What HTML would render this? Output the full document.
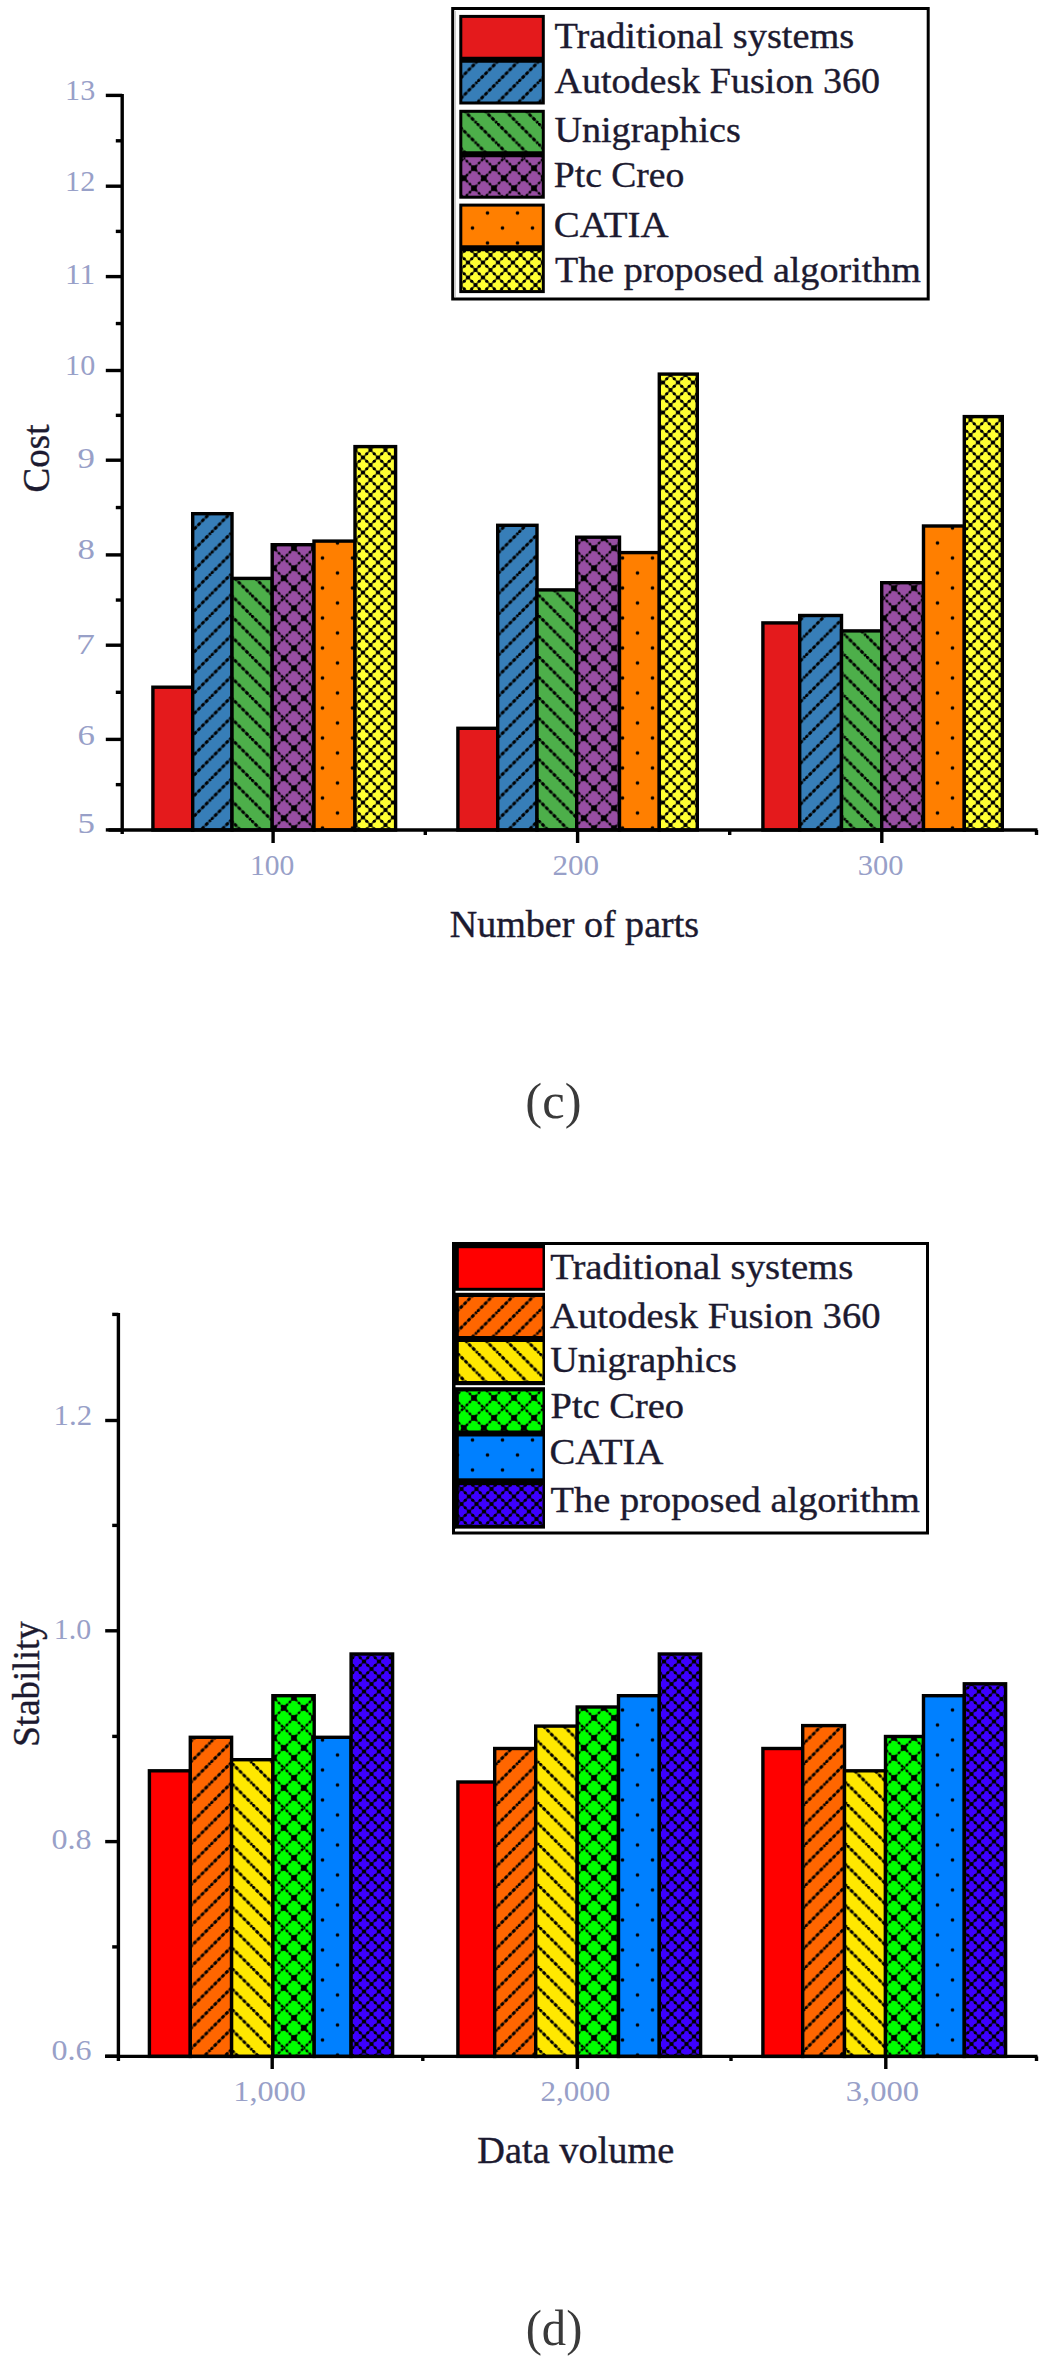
<!DOCTYPE html>
<html><head><meta charset="utf-8"><title>Charts</title>
<style>
html,body{margin:0;padding:0;background:#fff;}
body{width:1046px;height:2363px;overflow:hidden;font-family:"Liberation Serif",serif;}
svg{display:block;}

</style></head><body>
<svg width="1046" height="2363" viewBox="0 0 1046 2363" font-family='"Liberation Serif", serif'>
<defs><pattern id="c1b" patternUnits="userSpaceOnUse" width="20.5" height="20.5" x="5.7"><rect width="20.5" height="20.5" fill="#377eb8"/><path d="M0,20.5 L20.5,0 M-10.25,10.25 L10.25,-10.25 M10.25,30.75 L30.75,10.25" stroke="#000" stroke-width="2.0" stroke-opacity="0.5" fill="none"/><path d="M0,20.5 L20.5,0 M-10.25,10.25 L10.25,-10.25 M10.25,30.75 L30.75,10.25" stroke="#000" stroke-width="2.9" stroke-dasharray="3.4 2.0" fill="none" opacity="1.0"/></pattern><pattern id="c1g" patternUnits="userSpaceOnUse" width="20.5" height="20.5" x="5.0"><rect width="20.5" height="20.5" fill="#4daf4a"/><path d="M0,0 L20.5,20.5 M-10.25,10.25 L10.25,30.75 M10.25,-10.25 L30.75,10.25" stroke="#000" stroke-width="2.0" stroke-opacity="0.5" fill="none"/><path d="M0,0 L20.5,20.5 M-10.25,10.25 L10.25,30.75 M10.25,-10.25 L30.75,10.25" stroke="#000" stroke-width="2.9" stroke-dasharray="3.4 2.0" fill="none" opacity="1.0"/></pattern><pattern id="c1p" patternUnits="userSpaceOnUse" width="20.0" height="40.0" x="3.9" y="38.2"><rect width="20.0" height="40.0" fill="#984ea3"/><path d="M-10.0,-30.0 L30.0,10.0 M-10.0,-10.0 L30.0,30.0 M-10.0,10.0 L30.0,50.0 M-10.0,30.0 L30.0,70.0 M-10.0,10.0 L30.0,-30.0 M-10.0,30.0 L30.0,-10.0 M-10.0,50.0 L30.0,10.0 M-10.0,70.0 L30.0,30.0 " stroke="#000" stroke-width="1.4" stroke-opacity="0.5" fill="none"/><path d="M-10.0,-30.0 L30.0,10.0 M-10.0,-10.0 L30.0,30.0 M-10.0,10.0 L30.0,50.0 M-10.0,30.0 L30.0,70.0 M-10.0,10.0 L30.0,-30.0 M-10.0,30.0 L30.0,-10.0 M-10.0,50.0 L30.0,10.0 M-10.0,70.0 L30.0,30.0 " stroke="#000" stroke-width="2.4" stroke-dasharray="2.4 1.9" fill="none"/><rect x="7.2" y="7.2" width="5.6" height="5.6" fill="#000"/><rect x="-2.8" y="17.2" width="5.6" height="5.6" fill="#000"/><rect x="17.2" y="17.2" width="5.6" height="5.6" fill="#000"/><rect x="7.2" y="27.2" width="5.6" height="5.6" fill="#000"/></pattern><pattern id="c1o" patternUnits="userSpaceOnUse" width="30" height="30" x="0" y="-4.5"><rect width="30" height="30" fill="#ff7f00"/><circle cx="7.5" cy="7.5" r="1.8" fill="#000"/><circle cx="22.5" cy="22.5" r="1.8" fill="#000"/></pattern><pattern id="c1y" patternUnits="userSpaceOnUse" width="15.0" height="15.0" x="3" y="0"><rect width="15.0" height="15.0" fill="#ffff33"/><path d="M0,7.5 L7.5,0 L15.0,7.5 L7.5,15.0 Z" stroke="#000" stroke-opacity="0.65" stroke-width="1.8" fill="none"/><circle cx="7.5" cy="0" r="2.1" fill="#000"/><circle cx="0" cy="7.5" r="2.1" fill="#000"/><circle cx="15.0" cy="7.5" r="2.1" fill="#000"/><circle cx="7.5" cy="15.0" r="2.1" fill="#000"/><circle cx="3.75" cy="3.75" r="1.6" fill="#000"/><circle cx="11.25" cy="3.75" r="1.6" fill="#000"/><circle cx="3.75" cy="11.25" r="1.6" fill="#000"/><circle cx="11.25" cy="11.25" r="1.6" fill="#000"/></pattern><pattern id="c2o" patternUnits="userSpaceOnUse" width="20.5" height="20.5" x="5.3"><rect width="20.5" height="20.5" fill="#ff6600"/><path d="M0,20.5 L20.5,0 M-10.25,10.25 L10.25,-10.25 M10.25,30.75 L30.75,10.25" stroke="#000" stroke-width="2.0" stroke-opacity="0.5" fill="none"/><path d="M0,20.5 L20.5,0 M-10.25,10.25 L10.25,-10.25 M10.25,30.75 L30.75,10.25" stroke="#000" stroke-width="2.9" stroke-dasharray="3.4 2.0" fill="none" opacity="1.0"/></pattern><pattern id="c2y" patternUnits="userSpaceOnUse" width="20.5" height="20.5" x="6.2"><rect width="20.5" height="20.5" fill="#ffe800"/><path d="M0,0 L20.5,20.5 M-10.25,10.25 L10.25,30.75 M10.25,-10.25 L30.75,10.25" stroke="#000" stroke-width="2.0" stroke-opacity="0.5" fill="none"/><path d="M0,0 L20.5,20.5 M-10.25,10.25 L10.25,30.75 M10.25,-10.25 L30.75,10.25" stroke="#000" stroke-width="2.9" stroke-dasharray="3.4 2.0" fill="none" opacity="1.0"/></pattern><pattern id="c2g" patternUnits="userSpaceOnUse" width="20.0" height="40.0" x="3.9" y="7.9"><rect width="20.0" height="40.0" fill="#00ff00"/><path d="M-10.0,-30.0 L30.0,10.0 M-10.0,-10.0 L30.0,30.0 M-10.0,10.0 L30.0,50.0 M-10.0,30.0 L30.0,70.0 M-10.0,10.0 L30.0,-30.0 M-10.0,30.0 L30.0,-10.0 M-10.0,50.0 L30.0,10.0 M-10.0,70.0 L30.0,30.0 " stroke="#000" stroke-width="1.4" stroke-opacity="0.5" fill="none"/><path d="M-10.0,-30.0 L30.0,10.0 M-10.0,-10.0 L30.0,30.0 M-10.0,10.0 L30.0,50.0 M-10.0,30.0 L30.0,70.0 M-10.0,10.0 L30.0,-30.0 M-10.0,30.0 L30.0,-10.0 M-10.0,50.0 L30.0,10.0 M-10.0,70.0 L30.0,30.0 " stroke="#000" stroke-width="2.4" stroke-dasharray="2.4 1.9" fill="none"/><rect x="7.2" y="7.2" width="5.6" height="5.6" fill="#000"/><rect x="-2.8" y="17.2" width="5.6" height="5.6" fill="#000"/><rect x="17.2" y="17.2" width="5.6" height="5.6" fill="#000"/><rect x="7.2" y="27.2" width="5.6" height="5.6" fill="#000"/></pattern><pattern id="c2b" patternUnits="userSpaceOnUse" width="30" height="30" x="0" y="7.5"><rect width="30" height="30" fill="#0080ff"/><circle cx="7.5" cy="7.5" r="1.8" fill="#000"/><circle cx="22.5" cy="22.5" r="1.8" fill="#000"/></pattern><pattern id="c2i" patternUnits="userSpaceOnUse" width="15.0" height="15.0" x="4" y="4"><rect width="15.0" height="15.0" fill="#3d00ff"/><path d="M0,7.5 L7.5,0 L15.0,7.5 L7.5,15.0 Z" stroke="#000" stroke-opacity="0.65" stroke-width="1.8" fill="none"/><circle cx="7.5" cy="0" r="2.1" fill="#000"/><circle cx="0" cy="7.5" r="2.1" fill="#000"/><circle cx="15.0" cy="7.5" r="2.1" fill="#000"/><circle cx="7.5" cy="15.0" r="2.1" fill="#000"/><circle cx="3.75" cy="3.75" r="1.6" fill="#000"/><circle cx="11.25" cy="3.75" r="1.6" fill="#000"/><circle cx="3.75" cy="11.25" r="1.6" fill="#000"/><circle cx="11.25" cy="11.25" r="1.6" fill="#000"/></pattern></defs>
<rect width="1046" height="2363" fill="#fff"/>
<rect x="152.9" y="687.2" width="39.8" height="142.8" fill="#e41a1c" stroke="#000" stroke-width="3.4"/>
<rect x="192.7" y="513.7" width="39.3" height="316.3" fill="url(#c1b)" stroke="#000" stroke-width="3.4"/>
<rect x="232.0" y="578.4" width="40.2" height="251.6" fill="url(#c1g)" stroke="#000" stroke-width="3.4"/>
<rect x="272.2" y="544.7" width="41.8" height="285.3" fill="url(#c1p)" stroke="#000" stroke-width="3.4"/>
<rect x="314.0" y="541.1" width="41.0" height="288.9" fill="url(#c1o)" stroke="#000" stroke-width="3.4"/>
<rect x="355.0" y="446.6" width="40.6" height="383.4" fill="url(#c1y)" stroke="#000" stroke-width="3.4"/>
<rect x="457.9" y="728.3" width="39.8" height="101.7" fill="#e41a1c" stroke="#000" stroke-width="3.4"/>
<rect x="497.7" y="525.3" width="39.3" height="304.7" fill="url(#c1b)" stroke="#000" stroke-width="3.4"/>
<rect x="537.0" y="589.9" width="39.7" height="240.1" fill="url(#c1g)" stroke="#000" stroke-width="3.4"/>
<rect x="576.7" y="537.2" width="42.8" height="292.8" fill="url(#c1p)" stroke="#000" stroke-width="3.4"/>
<rect x="619.5" y="552.6" width="39.8" height="277.4" fill="url(#c1o)" stroke="#000" stroke-width="3.4"/>
<rect x="659.3" y="374.1" width="38.0" height="455.9" fill="url(#c1y)" stroke="#000" stroke-width="3.4"/>
<rect x="762.9" y="622.9" width="36.8" height="207.1" fill="#e41a1c" stroke="#000" stroke-width="3.4"/>
<rect x="799.7" y="615.5" width="41.8" height="214.5" fill="url(#c1b)" stroke="#000" stroke-width="3.4"/>
<rect x="841.5" y="630.9" width="40.2" height="199.1" fill="url(#c1g)" stroke="#000" stroke-width="3.4"/>
<rect x="881.7" y="582.7" width="41.8" height="247.3" fill="url(#c1p)" stroke="#000" stroke-width="3.4"/>
<rect x="923.5" y="526.0" width="40.8" height="304.0" fill="url(#c1o)" stroke="#000" stroke-width="3.4"/>
<rect x="964.3" y="416.6" width="38.0" height="413.4" fill="url(#c1y)" stroke="#000" stroke-width="3.4"/>
<line x1="122.2" y1="94" x2="122.2" y2="834" stroke="#000" stroke-width="3.4" stroke-linecap="butt"/>
<line x1="108.5" y1="830.0" x2="1037.5" y2="830.0" stroke="#000" stroke-width="3.4" stroke-linecap="butt"/>
<line x1="1036.5" y1="830.0" x2="1036.5" y2="835" stroke="#000" stroke-width="3.4" stroke-linecap="butt"/>
<line x1="105.8" y1="829.9" x2="122.2" y2="829.9" stroke="#000" stroke-width="3.4" stroke-linecap="butt"/>
<line x1="105.8" y1="739.4" x2="122.2" y2="739.4" stroke="#000" stroke-width="3.4" stroke-linecap="butt"/>
<line x1="105.8" y1="645.2" x2="122.2" y2="645.2" stroke="#000" stroke-width="3.4" stroke-linecap="butt"/>
<line x1="105.8" y1="554.9" x2="122.2" y2="554.9" stroke="#000" stroke-width="3.4" stroke-linecap="butt"/>
<line x1="105.8" y1="460.2" x2="122.2" y2="460.2" stroke="#000" stroke-width="3.4" stroke-linecap="butt"/>
<line x1="105.8" y1="370.5" x2="122.2" y2="370.5" stroke="#000" stroke-width="3.4" stroke-linecap="butt"/>
<line x1="105.8" y1="276.6" x2="122.2" y2="276.6" stroke="#000" stroke-width="3.4" stroke-linecap="butt"/>
<line x1="105.8" y1="186.2" x2="122.2" y2="186.2" stroke="#000" stroke-width="3.4" stroke-linecap="butt"/>
<line x1="105.8" y1="95.4" x2="122.2" y2="95.4" stroke="#000" stroke-width="3.4" stroke-linecap="butt"/>
<line x1="115.8" y1="784.65" x2="122.2" y2="784.65" stroke="#000" stroke-width="3.4" stroke-linecap="butt"/>
<line x1="115.8" y1="692.3" x2="122.2" y2="692.3" stroke="#000" stroke-width="3.4" stroke-linecap="butt"/>
<line x1="115.8" y1="600.05" x2="122.2" y2="600.05" stroke="#000" stroke-width="3.4" stroke-linecap="butt"/>
<line x1="115.8" y1="507.54999999999995" x2="122.2" y2="507.54999999999995" stroke="#000" stroke-width="3.4" stroke-linecap="butt"/>
<line x1="115.8" y1="415.35" x2="122.2" y2="415.35" stroke="#000" stroke-width="3.4" stroke-linecap="butt"/>
<line x1="115.8" y1="323.55" x2="122.2" y2="323.55" stroke="#000" stroke-width="3.4" stroke-linecap="butt"/>
<line x1="115.8" y1="231.4" x2="122.2" y2="231.4" stroke="#000" stroke-width="3.4" stroke-linecap="butt"/>
<line x1="115.8" y1="140.8" x2="122.2" y2="140.8" stroke="#000" stroke-width="3.4" stroke-linecap="butt"/>
<line x1="273.1" y1="830.0" x2="273.1" y2="843" stroke="#000" stroke-width="3.4" stroke-linecap="butt"/>
<line x1="577.6" y1="830.0" x2="577.6" y2="843" stroke="#000" stroke-width="3.4" stroke-linecap="butt"/>
<line x1="881.8" y1="830.0" x2="881.8" y2="843" stroke="#000" stroke-width="3.4" stroke-linecap="butt"/>
<line x1="425.3" y1="830.0" x2="425.3" y2="835" stroke="#000" stroke-width="3.4" stroke-linecap="butt"/>
<line x1="729.7" y1="830.0" x2="729.7" y2="835" stroke="#000" stroke-width="3.4" stroke-linecap="butt"/>
<text transform="translate(48.5,458.5) rotate(-90)" font-size="37" fill="#1c1a30" stroke="#1c1a30" stroke-width="0.4" text-anchor="middle">Cost</text>
<rect x="452.7" y="8.5" width="475.5" height="290.5" fill="#fff" stroke="#000" stroke-width="3"/>
<line x1="455.3" y1="11" x2="455.3" y2="297" stroke="#c8c8c8" stroke-width="1.2"/>
<rect x="460.8" y="16.4" width="82.49999999999994" height="43.300000000000004" fill="#e41a1c"/>
<rect x="460.8" y="59.7" width="82.49999999999994" height="43.3" fill="url(#c1b)"/>
<rect x="460.8" y="16.4" width="82.49999999999994" height="86.6" fill="none" stroke="#000" stroke-width="3"/>
<line x1="460.8" y1="59.7" x2="543.3" y2="59.7" stroke="#000" stroke-width="6"/>
<rect x="460.8" y="111.3" width="82.49999999999994" height="42.95" fill="url(#c1g)"/>
<rect x="460.8" y="154.25" width="82.49999999999994" height="42.94999999999999" fill="url(#c1p)"/>
<rect x="460.8" y="111.3" width="82.49999999999994" height="85.89999999999999" fill="none" stroke="#000" stroke-width="3"/>
<line x1="460.8" y1="154.25" x2="543.3" y2="154.25" stroke="#000" stroke-width="6"/>
<rect x="460.8" y="205.1" width="82.49999999999994" height="43.25000000000003" fill="url(#c1o)"/>
<rect x="460.8" y="248.35000000000002" width="82.49999999999994" height="43.25" fill="url(#c1y)"/>
<rect x="460.8" y="205.1" width="82.49999999999994" height="86.50000000000003" fill="none" stroke="#000" stroke-width="3"/>
<line x1="460.8" y1="248.35000000000002" x2="543.3" y2="248.35000000000002" stroke="#000" stroke-width="6"/>
<rect x="149.4" y="1770.8" width="40.9" height="285.6" fill="#ff0000" stroke="#000" stroke-width="3.4"/>
<rect x="190.3" y="1737.3" width="41.3" height="319.1" fill="url(#c2o)" stroke="#000" stroke-width="3.4"/>
<rect x="231.6" y="1759.7" width="41.3" height="296.7" fill="url(#c2y)" stroke="#000" stroke-width="3.4"/>
<rect x="272.9" y="1695.7" width="41.3" height="360.7" fill="url(#c2g)" stroke="#000" stroke-width="3.4"/>
<rect x="314.2" y="1737.3" width="36.9" height="319.1" fill="url(#c2b)" stroke="#000" stroke-width="3.4"/>
<rect x="351.1" y="1654.0" width="41.5" height="402.4" fill="url(#c2i)" stroke="#000" stroke-width="3.4"/>
<rect x="457.9" y="1782.0" width="36.8" height="274.4" fill="#ff0000" stroke="#000" stroke-width="3.4"/>
<rect x="494.7" y="1748.5" width="41.0" height="307.9" fill="url(#c2o)" stroke="#000" stroke-width="3.4"/>
<rect x="535.7" y="1726.1" width="41.5" height="330.3" fill="url(#c2y)" stroke="#000" stroke-width="3.4"/>
<rect x="577.2" y="1707.0" width="41.3" height="349.4" fill="url(#c2g)" stroke="#000" stroke-width="3.4"/>
<rect x="618.5" y="1695.7" width="40.8" height="360.7" fill="url(#c2b)" stroke="#000" stroke-width="3.4"/>
<rect x="659.3" y="1654.0" width="41.3" height="402.4" fill="url(#c2i)" stroke="#000" stroke-width="3.4"/>
<rect x="762.9" y="1748.5" width="39.8" height="307.9" fill="#ff0000" stroke="#000" stroke-width="3.4"/>
<rect x="802.7" y="1725.6" width="41.8" height="330.8" fill="url(#c2o)" stroke="#000" stroke-width="3.4"/>
<rect x="844.5" y="1770.8" width="41.0" height="285.6" fill="url(#c2y)" stroke="#000" stroke-width="3.4"/>
<rect x="885.5" y="1736.5" width="38.0" height="319.9" fill="url(#c2g)" stroke="#000" stroke-width="3.4"/>
<rect x="923.5" y="1695.7" width="40.8" height="360.7" fill="url(#c2b)" stroke="#000" stroke-width="3.4"/>
<rect x="964.3" y="1683.8" width="41.3" height="372.6" fill="url(#c2i)" stroke="#000" stroke-width="3.4"/>
<line x1="118.4" y1="1313" x2="118.4" y2="2061" stroke="#000" stroke-width="3.4" stroke-linecap="butt"/>
<line x1="105" y1="2056.4" x2="1037.5" y2="2056.4" stroke="#000" stroke-width="3.4" stroke-linecap="butt"/>
<line x1="1036.5" y1="2056.4" x2="1036.5" y2="2061" stroke="#000" stroke-width="3.4" stroke-linecap="butt"/>
<line x1="105.2" y1="2056.2" x2="118.4" y2="2056.2" stroke="#000" stroke-width="3.4" stroke-linecap="butt"/>
<line x1="105.2" y1="1841.6" x2="118.4" y2="1841.6" stroke="#000" stroke-width="3.4" stroke-linecap="butt"/>
<line x1="105.2" y1="1630.8" x2="118.4" y2="1630.8" stroke="#000" stroke-width="3.4" stroke-linecap="butt"/>
<line x1="105.2" y1="1420.5" x2="118.4" y2="1420.5" stroke="#000" stroke-width="3.4" stroke-linecap="butt"/>
<line x1="112.2" y1="1946.9" x2="118.4" y2="1946.9" stroke="#000" stroke-width="3.4" stroke-linecap="butt"/>
<line x1="112.2" y1="1736.4" x2="118.4" y2="1736.4" stroke="#000" stroke-width="3.4" stroke-linecap="butt"/>
<line x1="112.2" y1="1525.4" x2="118.4" y2="1525.4" stroke="#000" stroke-width="3.4" stroke-linecap="butt"/>
<line x1="112.2" y1="1314.4" x2="118.4" y2="1314.4" stroke="#000" stroke-width="3.4" stroke-linecap="butt"/>
<line x1="272.2" y1="2056.4" x2="272.2" y2="2069" stroke="#000" stroke-width="3.4" stroke-linecap="butt"/>
<line x1="577.4" y1="2056.4" x2="577.4" y2="2069" stroke="#000" stroke-width="3.4" stroke-linecap="butt"/>
<line x1="885.8" y1="2056.4" x2="885.8" y2="2069" stroke="#000" stroke-width="3.4" stroke-linecap="butt"/>
<line x1="422.8" y1="2056.4" x2="422.8" y2="2061" stroke="#000" stroke-width="3.4" stroke-linecap="butt"/>
<line x1="731.0" y1="2056.4" x2="731.0" y2="2061" stroke="#000" stroke-width="3.4" stroke-linecap="butt"/>
<text transform="translate(38.5,1684) rotate(-90)" font-size="37" fill="#1c1a30" stroke="#1c1a30" stroke-width="0.4" text-anchor="middle">Stability</text>
<rect x="453.5" y="1243.5" width="474" height="289.5" fill="#fff" stroke="#000" stroke-width="3"/>
<rect x="452" y="1242" width="93" height="287" fill="#000"/>
<rect x="458.8" y="1248.2" width="83.69999999999999" height="39.59999999999991" fill="#ff0000"/>
<rect x="458.8" y="1297" width="83.69999999999999" height="39" fill="url(#c2o)"/>
<rect x="458.8" y="1342" width="83.69999999999999" height="39" fill="url(#c2y)"/>
<rect x="458.8" y="1391.4" width="83.69999999999999" height="39.09999999999991" fill="url(#c2g)"/>
<rect x="458.8" y="1436.5" width="83.69999999999999" height="41.799999999999955" fill="url(#c2b)"/>
<rect x="458.8" y="1485.2" width="83.69999999999999" height="39.59999999999991" fill="url(#c2i)"/>
<rect x="455.5" y="1290.8" width="90" height="2" fill="#fff"/>
<rect x="455.5" y="1385.2" width="90" height="2" fill="#fff"/>
<rect x="455.5" y="1528.6" width="90" height="2" fill="#fff"/>
<text id="L1_0" x="554.42" y="48.20" font-size="35" fill="#1c1a30" stroke="#1c1a30" stroke-width="0.35" textLength="299.76" lengthAdjust="spacingAndGlyphs" xml:space="preserve">Traditional systems</text>
<text id="L1_1" x="554.42" y="93.30" font-size="35" fill="#1c1a30" stroke="#1c1a30" stroke-width="0.35" textLength="325.71" lengthAdjust="spacingAndGlyphs" xml:space="preserve">Autodesk Fusion 360</text>
<text id="L1_2" x="554.42" y="142.30" font-size="35" fill="#1c1a30" stroke="#1c1a30" stroke-width="0.35" textLength="186.39" lengthAdjust="spacingAndGlyphs" xml:space="preserve">Unigraphics</text>
<text id="L1_3" x="553.75" y="187.40" font-size="35" fill="#1c1a30" stroke="#1c1a30" stroke-width="0.35" textLength="130.63" lengthAdjust="spacingAndGlyphs" xml:space="preserve">Ptc Creo</text>
<text id="L1_4" x="553.89" y="236.50" font-size="35" fill="#1c1a30" stroke="#1c1a30" stroke-width="0.35" textLength="114.68" lengthAdjust="spacingAndGlyphs" xml:space="preserve">CATIA</text>
<text id="L1_5" x="554.96" y="282.00" font-size="35" fill="#1c1a30" stroke="#1c1a30" stroke-width="0.35" textLength="366.04" lengthAdjust="spacingAndGlyphs" xml:space="preserve">The proposed algorithm</text>
<text id="L2_0" x="550.16" y="1279.00" font-size="35" fill="#1c1a30" stroke="#1c1a30" stroke-width="0.35" textLength="303.17" lengthAdjust="spacingAndGlyphs" xml:space="preserve">Traditional systems</text>
<text id="L2_1" x="550.00" y="1328.00" font-size="35" fill="#1c1a30" stroke="#1c1a30" stroke-width="0.35" textLength="330.52" lengthAdjust="spacingAndGlyphs" xml:space="preserve">Autodesk Fusion 360</text>
<text id="L2_2" x="550.16" y="1372.30" font-size="35" fill="#1c1a30" stroke="#1c1a30" stroke-width="0.35" textLength="186.78" lengthAdjust="spacingAndGlyphs" xml:space="preserve">Unigraphics</text>
<text id="L2_3" x="550.58" y="1418.30" font-size="35" fill="#1c1a30" stroke="#1c1a30" stroke-width="0.35" textLength="133.47" lengthAdjust="spacingAndGlyphs" xml:space="preserve">Ptc Creo</text>
<text id="L2_4" x="549.47" y="1464.10" font-size="35" fill="#1c1a30" stroke="#1c1a30" stroke-width="0.35" textLength="113.87" lengthAdjust="spacingAndGlyphs" xml:space="preserve">CATIA</text>
<text id="L2_5" x="550.58" y="1512.00" font-size="35" fill="#1c1a30" stroke="#1c1a30" stroke-width="0.35" textLength="369.24" lengthAdjust="spacingAndGlyphs" xml:space="preserve">The proposed algorithm</text>
<text id="ty1_5" x="77.48" y="833.00" font-size="29" fill="#98a0c8" textLength="17.40" lengthAdjust="spacingAndGlyphs" xml:space="preserve">5</text>
<text id="ty1_6" x="77.48" y="745.30" font-size="29" fill="#98a0c8" textLength="17.40" lengthAdjust="spacingAndGlyphs" xml:space="preserve">6</text>
<text id="ty1_7" x="76.00" y="653.50" font-size="29" fill="#98a0c8" textLength="18.98" lengthAdjust="spacingAndGlyphs" xml:space="preserve">7</text>
<text id="ty1_8" x="77.48" y="559.30" font-size="29" fill="#98a0c8" textLength="17.40" lengthAdjust="spacingAndGlyphs" xml:space="preserve">8</text>
<text id="ty1_9" x="77.48" y="468.30" font-size="29" fill="#98a0c8" textLength="17.40" lengthAdjust="spacingAndGlyphs" xml:space="preserve">9</text>
<text id="ty1_10" x="65.11" y="375.20" font-size="29" fill="#98a0c8" textLength="30.04" lengthAdjust="spacingAndGlyphs" xml:space="preserve">10</text>
<text id="ty1_11" x="65.01" y="283.90" font-size="29" fill="#98a0c8" textLength="30.15" lengthAdjust="spacingAndGlyphs" xml:space="preserve">11</text>
<text id="ty1_12" x="65.11" y="190.60" font-size="29" fill="#98a0c8" textLength="30.04" lengthAdjust="spacingAndGlyphs" xml:space="preserve">12</text>
<text id="ty1_13" x="65.11" y="100.10" font-size="29" fill="#98a0c8" textLength="30.04" lengthAdjust="spacingAndGlyphs" xml:space="preserve">13</text>
<text id="tx1_100" x="249.95" y="875.20" font-size="29" fill="#98a0c8" textLength="44.37" lengthAdjust="spacingAndGlyphs" xml:space="preserve">100</text>
<text id="tx1_200" x="552.52" y="875.20" font-size="29" fill="#98a0c8" textLength="46.58" lengthAdjust="spacingAndGlyphs" xml:space="preserve">200</text>
<text id="tx1_300" x="857.72" y="875.20" font-size="29" fill="#98a0c8" textLength="45.62" lengthAdjust="spacingAndGlyphs" xml:space="preserve">300</text>
<text id="ty2_0.6" x="51.47" y="2060.40" font-size="29" fill="#98a0c8" textLength="40.09" lengthAdjust="spacingAndGlyphs" xml:space="preserve">0.6</text>
<text id="ty2_0.8" x="51.47" y="1849.20" font-size="29" fill="#98a0c8" textLength="40.09" lengthAdjust="spacingAndGlyphs" xml:space="preserve">0.8</text>
<text id="ty2_1.0" x="53.72" y="1639.20" font-size="29" fill="#98a0c8" textLength="37.35" lengthAdjust="spacingAndGlyphs" xml:space="preserve">1.0</text>
<text id="ty2_1.2" x="53.64" y="1424.60" font-size="29" fill="#98a0c8" textLength="38.52" lengthAdjust="spacingAndGlyphs" xml:space="preserve">1.2</text>
<text id="tx2_1,000" x="233.30" y="2100.80" font-size="29" fill="#98a0c8" textLength="72.52" lengthAdjust="spacingAndGlyphs" xml:space="preserve">1,000</text>
<text id="tx2_2,000" x="540.48" y="2100.80" font-size="29" fill="#98a0c8" textLength="69.78" lengthAdjust="spacingAndGlyphs" xml:space="preserve">2,000</text>
<text id="tx2_3,000" x="845.75" y="2100.80" font-size="29" fill="#98a0c8" textLength="73.35" lengthAdjust="spacingAndGlyphs" xml:space="preserve">3,000</text>
<text id="nop" x="449.80" y="936.80" font-size="38" fill="#1c1a30" stroke="#1c1a30" stroke-width="0.4" textLength="249.25" lengthAdjust="spacingAndGlyphs" xml:space="preserve">Number of parts</text>
<text id="dv" x="477.38" y="2162.80" font-size="37.5" fill="#1c1a30" stroke="#1c1a30" stroke-width="0.4" textLength="196.99" lengthAdjust="spacingAndGlyphs" xml:space="preserve">Data volume</text>
<text id="pc" x="525.37" y="1117.50" font-size="50" fill="#3a3a3a" textLength="56.15" lengthAdjust="spacingAndGlyphs" xml:space="preserve">(c)</text>
<text id="pd" x="525.65" y="2344.50" font-size="50" fill="#3a3a3a" textLength="56.72" lengthAdjust="spacingAndGlyphs" xml:space="preserve">(d)</text>
</svg>
</body></html>
